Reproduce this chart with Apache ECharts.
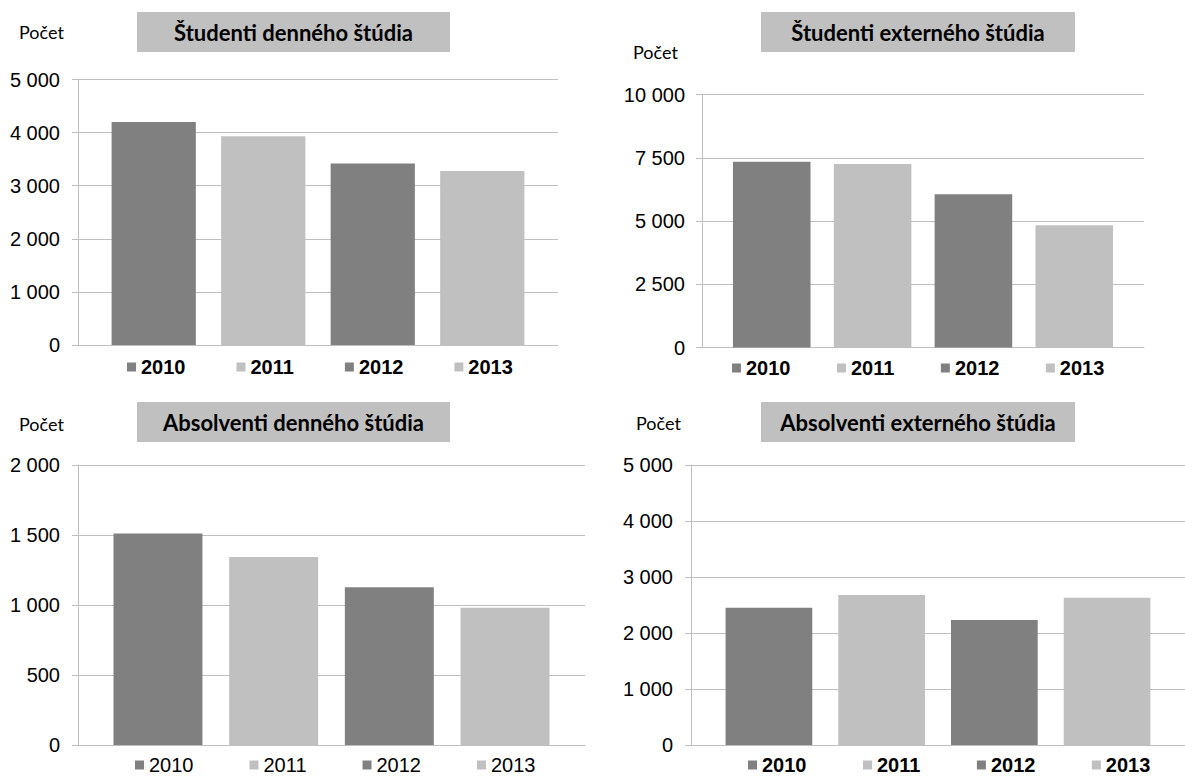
<!DOCTYPE html>
<html>
<head>
<meta charset="utf-8">
<script src="https://cdn.jsdelivr.net/npm/echarts@6/dist/echarts.min.js"></script>
<style>
html,body{margin:0;padding:0;background:#fff;}
#main{width:1185px;height:776px;}
</style>
</head>
<body>
<div id="main"></div>
<script>
// ---- data ----
const years = ['2010', '2011', '2012', '2013'];
const chartTitles = ['Študenti denného štúdia', 'Študenti externého štúdia', 'Absolventi denného štúdia', 'Absolventi externého štúdia'];
const yName = 'Počet';
const studentiDenne = [4200, 3930, 3420, 3275];
const studentiExterne = [7340, 7250, 6060, 4830];
const absolventiDenne = [1510, 1343, 1126, 981];
const absolventiExterne = [2450, 2680, 2230, 2630];
const yMax = [5000, 10000, 2000, 5000];
const yStep = [1000, 2500, 500, 1000];
const legendBold = [true, true, false, true];

const values = [studentiDenne, studentiExterne, absolventiDenne, absolventiExterne];

// ---- layout ----
const grids = [
  {left: 78, top: 79.5, width: 480, height: 265.5},
  {left: 702, top: 94.5, width: 442, height: 253},
  {left: 78, top: 465, width: 507, height: 280},
  {left: 691, top: 465, width: 509, height: 280}
];
const legendPos = [
  {left: 127, top: 357, gap: 51},
  {left: 732, top: 358, gap: 46.5},
  {left: 135, top: 755, gap: 56},
  {left: 748, top: 755, gap: 56.5}
];
const titleBox = [
  {x: 137, y: 12, w: 313, h: 40},
  {x: 761, y: 12, w: 314, h: 40},
  {x: 137, y: 402, w: 313, h: 40},
  {x: 761, y: 402, w: 314, h: 40}
];
const pocetPos = [
  {x: 19, y: 32},
  {x: 633, y: 52},
  {x: 19, y: 424},
  {x: 636, y: 423}
];
const labelMargin = [18, 17, 18, 18];

const darkGray = '#808080';
const lightGray = '#c0c0c0';
const lineGray = '#bfbfbf';

const fmt = v => String(v).replace(/\B(?=(\d{3})+(?!\d))/g, ' ');

const option = {
  animation: false,
  backgroundColor: '#ffffff',
  grid: grids.map(g => Object.assign({containLabel: false}, g)),
  xAxis: grids.map((g, c) => ({
    type: 'category',
    gridIndex: c,
    data: [''],
    axisLine: {show: true, lineStyle: {color: lineGray, width: 1}},
    axisTick: {show: false},
    axisLabel: {show: false},
    splitLine: {show: false}
  })),
  yAxis: grids.map((g, c) => ({
    type: 'value',
    gridIndex: c,
    min: 0,
    max: yMax[c],
    interval: yStep[c],
    axisLine: {show: true, lineStyle: {color: lineGray, width: 1}},
    axisTick: {show: true, length: 6, lineStyle: {color: lineGray, width: 1}},
    splitLine: {show: true, lineStyle: {color: lineGray, width: 1}},
    axisLabel: {
      margin: labelMargin[c],
      fontFamily: 'Liberation Sans, Arial, sans-serif',
      fontSize: 20,
      color: '#000',
      formatter: fmt
    }
  })),
  legend: legendPos.map((p, c) => ({
    data: years,
    left: p.left,
    top: p.top,
    itemGap: p.gap,
    itemWidth: 9,
    itemHeight: 9,
    icon: 'rect',
    padding: 0,
    selectedMode: false,
    textStyle: {
      fontFamily: 'Liberation Sans, Arial, sans-serif',
      fontSize: 20,
      lineHeight: 20,
      fontWeight: legendBold[c] ? 'bold' : 'normal',
      color: '#000'
    }
  })),
  series: [],
  graphic: []
};

values.forEach((vals, c) => {
  years.forEach((yr, i) => {
    option.series.push({
      type: 'bar',
      name: yr,
      xAxisIndex: c,
      yAxisIndex: c,
      data: [vals[i]],
      barGap: '30%',
      barCategoryGap: '14%',
      itemStyle: {color: i % 2 === 0 ? darkGray : lightGray},
      emphasis: {disabled: true}
    });
  });
  const tb = titleBox[c];
  option.graphic.push({
    type: 'rect',
    shape: {x: tb.x, y: tb.y, width: tb.w, height: tb.h},
    style: {fill: lightGray},
    silent: true
  });
  option.graphic.push({
    type: 'text',
    x: tb.x + tb.w / 2,
    y: tb.y + tb.h / 2,
    style: {
      text: chartTitles[c],
      fill: '#000',
      font: 'bold 22px Lato, "Open Sans", sans-serif',
      textAlign: 'center',
      textVerticalAlign: 'middle'
    },
    silent: true
  });
  const pp = pocetPos[c];
  option.graphic.push({
    type: 'text',
    x: pp.x,
    y: pp.y,
    style: {
      text: yName,
      fill: '#000',
      font: '18px Lato, "Open Sans", sans-serif',
      textAlign: 'left',
      textVerticalAlign: 'middle'
    },
    silent: true
  });
});

const chart = echarts.init(document.getElementById('main'), null, {renderer: 'svg'});
chart.setOption(option);
</script>
</body>
</html>
